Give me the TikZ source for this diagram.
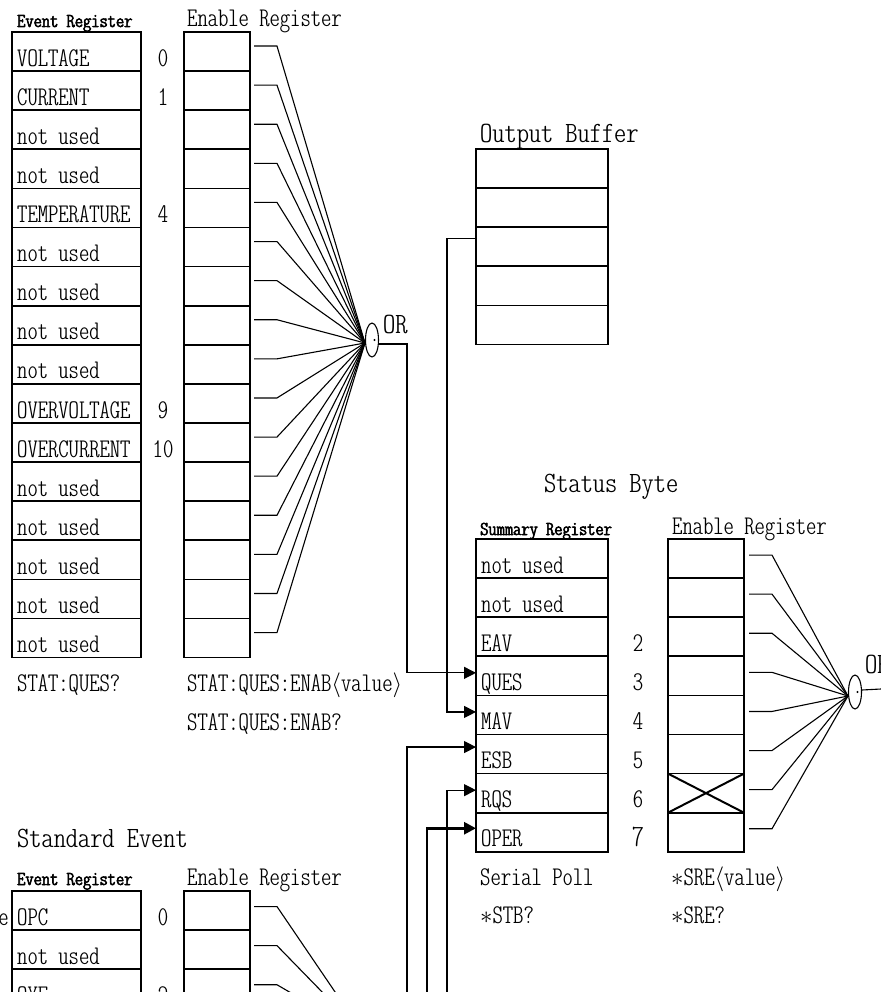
\documentclass[tikz,border=0pt]{standalone}
\usepackage{fontspec}
\usetikzlibrary{positioning,arrows.meta,shapes.geometric}
\newfontfamily\condtt{lmmonoltcond10-regular.otf}[FakeStretch=1.09]
\newfontfamily\widett{lmmonoltcond10-regular.otf}[FakeStretch=1.18]
\newfontfamily\heavytt{lmmonoltcond10-regular.otf}[FakeStretch=1.2,FakeBold=3]
\newcommand\rowfont{\fontsize{27}{30}\condtt}
\newcommand\hdfont{\fontsize{19.6}{22}\heavytt}
\newcommand\ttlfont{\fontsize{29.5}{32}\widett}
\newcommand\bigbit{\fontsize{31}{34}\selectfont}
\tikzset{
  cell/.style={rectangle,draw=black,line width=1.7pt,inner sep=0pt,outer sep=0pt,minimum height=39.1pt},
  evc/.style={cell,minimum width=129pt},
  enc/.style={cell,minimum width=66pt},
  smc/.style={cell,minimum width=132pt},
  sec/.style={cell,minimum width=76pt},
  txt/.style={font=\rowfont,anchor=base west,inner sep=0pt},
  bit/.style={font=\rowfont,anchor=base,inner sep=0pt},
  hd/.style={font=\hdfont,anchor=base west,inner sep=0pt},
  ttl/.style={font=\ttlfont,anchor=base west,inner sep=0pt},
  orgate/.style={ellipse,draw=black,line width=1.1pt,minimum width=13pt,minimum height=34pt,inner sep=0pt},
  wire/.style={line width=1.1pt,black},
  sig/.style={line width=1.2pt,black,-{Triangle[length=12pt,width=12pt]}},
}
\begin{document}
\begin{tikzpicture}[x=1pt,y=-1pt]
  \useasboundingbox (0,0) rectangle (880,992);
  % questionable status
  \node[hd] (qevh) at (17,27) {Event Register};
  \node[txt] (qenh) at (187,27) {Enable Register};
  \foreach \i/\name/\bitno in {0/VOLTAGE/0,1/CURRENT/1,2/not used/{},3/not used/{},4/TEMPERATURE/4,
      5/not used/{},6/not used/{},7/not used/{},8/not used/{},9/OVERVOLTAGE/9,10/OVERCURRENT/10,
      11/not used/{},12/not used/{},13/not used/{},14/not used/{},15/not used/{}}{
    \node[evc] (qev\i) at (76.5,51.55+39.1*\i) {};
    \node[txt] (qevt\i) at ([xshift=5pt,yshift=5pt]qev\i.south west) {\name};
    \node[bit] (qevb\i) at (163,66.1+39.1*\i) {\bitno};
    \node[enc] (qen\i) at (217,51.55+39.1*\i) {};
  }
  \node[orgate] (qor) at (372,340) {};
  \fill (qor.center) ++(2.5,0) circle (1.2pt);
  \node[ttl] (qorl) at (383,333) {OR};
  \coordinate (qin) at ([yshift=-3pt]qor.west);
  \foreach \i in {0,...,15}
    \draw[wire] ([xshift=4pt,yshift=5.5pt]qen\i.east) -- ++(23,0) -- (qin);
  \node[txt] (qcmd) at (17,691) {STAT:QUES?};
  \node[txt] (qecmd) at (187,691) {STAT:QUES:ENAB$\langle$value$\rangle$};
  \node[txt] (qeqry) at (187,730) {STAT:QUES:ENAB?};
  % output buffer
  \node[ttl] (obh) at (480,143) {Output Buffer};
  \foreach \i in {0,...,4}
    \node[smc] (ob\i) at (542,168.55+39.1*\i) {};
  % status byte
  \node[ttl] (sbh) at (544,492) {Status Byte};
  \node[hd] (sbrh) at (480,535) {Summary Register};
  \node[txt] (sbeh) at (672,534) {Enable Register};
  \foreach \i/\name/\bitno in {0/not used/{},1/not used/{},2/EAV/2,3/QUES/3,4/MAV/4,5/ESB/5,6/RQS/6,7/OPER/{\bigbit 7}}{
    \node[smc] (sbr\i) at (542,558.55+39.1*\i) {};
    \node[txt] (sbrt\i) at ([xshift=5pt,yshift=5pt]sbr\i.south west) {\name};
    \node[bit] (sbrb\i) at (638,573.1+39.1*\i) {\bitno};
    \node[sec] (sbe\i) at (706,558.55+39.1*\i) {};
  }
  \draw[line width=2pt] (sbe6.north west) -- (sbe6.south east) (sbe6.south west) -- (sbe6.north east);
  \node[orgate] (sor) at (855,692) {};
  \fill (sor.center) ++(2.5,0) circle (1.2pt);
  \node[ttl] (sorl) at (865,673) {OR};
  \coordinate (sin) at ([yshift=-4pt]sor.west);
  \foreach \i in {0,...,7}
    \draw[wire] ([xshift=5pt,yshift=3.5pt]sbe\i.east) -- ++(23,0) -- (sin);
  \coordinate (sout) at (900,688);
  \draw[wire] ([yshift=2pt]sor.east) -- (sout);
  \node[txt] (spoll) at (480,885) {Serial Poll};
  \node[txt] (stbq) at (480,923) {$\ast$STB?};
  \node[txt] (srecmd) at (671,885) {$\ast$SRE$\langle$value$\rangle$};
  \node[txt] (sreq) at (671,923) {$\ast$SRE?};
  % links into the summary register
  \draw[sig] ([yshift=-4pt]qor.east) -| ([xshift=-69pt,yshift=3pt]sbr3.west) -- ([yshift=3pt]sbr3.west);
  \draw[sig] ([yshift=8pt]ob2.west) -| ([xshift=-29pt,yshift=3pt]sbr4.west) -- ([yshift=3pt]sbr4.west);
  \coordinate (esbin) at (407,1000);
  \coordinate (operin) at (427,1000);
  \coordinate (rqsin) at (447,1000);
  \draw[sig] (esbin) |- ([yshift=7pt]sbr5.west);
  \draw[sig] (rqsin) |- ([yshift=3pt]sbr6.west);
  \draw[sig,line width=2.8pt] (operin) |- ([yshift=4pt]sbr7.west);
  % standard event
  \node[ttl] (seh) at (17,847) {Standard Event};
  \node[hd] (sevh) at (17,885) {Event Register};
  \node[txt] (senh) at (187,885) {Enable Register};
  \node[txt,anchor=base east] (sefrag) at (9,925) {e};
  \coordinate (sein) at (365,1036);
  \foreach \i/\name/\bitno in {0/OPC/0,1/not used/{},2/QYE/2}{
    \node[evc] (sev\i) at (76.5,910.55+39.1*\i) {};
    \node[txt] (sevt\i) at ([xshift=5pt,yshift=5pt]sev\i.south west) {\name};
    \node[bit] (sevb\i) at (163,925.1+39.1*\i) {\bitno};
    \node[enc] (sen\i) at (217,910.55+39.1*\i) {};
    \draw[wire] ([xshift=4pt,yshift=4pt]sen\i.east) -- ++(23,0) -- (sein);
  }
\end{tikzpicture}
\end{document}
